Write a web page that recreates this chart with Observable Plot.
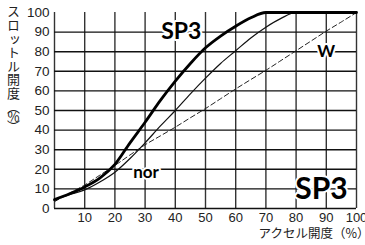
<!DOCTYPE html>
<html><head><meta charset="utf-8">
<script src="https://cdn.jsdelivr.net/npm/d3@7"></script>
<script src="https://cdn.jsdelivr.net/npm/@observablehq/plot@0.6"></script>
<style>
html,body{margin:0;padding:0;background:#fff;overflow:hidden}
#wrap{position:relative;width:365px;height:245px}
#chart svg{display:block}
#ytitle{position:absolute;left:5px;top:5px;writing-mode:vertical-rl;text-orientation:upright;
  font-family:'Noto Sans CJK JP',sans-serif;font-size:13px;line-height:16px;color:#222;letter-spacing:0.6px}
#ytitle .unit{letter-spacing:-3.5px}
</style>
</head><body><div id="wrap"><div id="chart"></div><div id="ytitle"></div></div>
<script>
// accelerator opening (%)
const accel = [0, 5, 10, 15, 20, 25, 30, 35, 40, 45, 50, 55, 60, 65, 70, 75, 80, 85, 90, 95, 100];
// throttle opening (%) per mode
const sp3   = [4.5, 7.5, 11, 15.5, 22.5, 33.5, 44, 55, 65, 74, 82, 88, 93, 97.3, 100, 100, 100, 100, 100, 100, 100];
const nor   = [4.5, 7, 9.5, 13.5, 18.5, 25.5, 33.5, 42, 50, 58.5, 66.5, 74, 80.5, 87, 92.5, 97, 100, 100, 100, 100, 100];
const wMode = [3.5, 7.8, 12, 17, 22, 27.3, 32.5, 37, 41.5, 46.3, 51, 56, 61, 65.8, 70.5, 75.5, 80.5, 85.5, 90.5, 95.2, 100];
const xTicks = [10, 20, 30, 40, 50, 60, 70, 80, 90, 100];
const yTicks = [0, 10, 20, 30, 40, 50, 60, 70, 80, 90, 100];
const hGrid = [10, 20, 30, 40, 50, 60, 70, 80, 90];
const vGrid = [0, 10, 20, 30, 40, 50, 60, 70, 80, 90, 100];
const yTitleMain = "スロットル開度";
const yTitleUnit = "︵％︶";
const xTitle = "アクセル開度（%）";
// curve labels
const labelText = ["SP3", "nor", "W"];
const labelX = [42, 30.3, 90];
const labelY = [90, 18.5, 80.3];
const cornerLabel = "SP3";

const table = accel.map((a, i) => ({a, sp3: sp3[i], nor: nor[i], w: wMode[i]}));
const labels = labelText.map((t, i) => ({t, x: labelX[i], y: labelY[i]}));

const tickFont = "'Liberation Sans', Arial, sans-serif";
const cjkFont = "'Noto Sans CJK JP', sans-serif";
const labFont = "Lato, 'DejaVu Sans', sans-serif";

const chart = Plot.plot({
  width: 365, height: 245,
  marginLeft: 54, marginRight: 9, marginTop: 12, marginBottom: 37,
  style: {background: "#fff", overflow: "visible"},
  x: {domain: [0, 100]},
  y: {domain: [0, 100]},
  marks: [
    Plot.ruleX(vGrid, {stroke: "#333", strokeWidth: 1.4}),
    Plot.ruleY(hGrid, {stroke: "#111", strokeWidth: 1.4}),
    Plot.ruleY([0], {stroke: "#111", strokeWidth: 1.5}),
    Plot.line(table, {x: "a", y: "w", stroke: "#222", strokeWidth: 1, strokeDasharray: "5,3", curve: "monotone-x"}),
    Plot.line(table, {x: "a", y: "nor", stroke: "#111", strokeWidth: 1.2, curve: "monotone-x"}),
    Plot.line(table, {x: "a", y: "sp3", stroke: "#000", strokeWidth: 2.8, curve: "monotone-x"}),
    Plot.axisX(xTicks, {tickSize: 0, tickPadding: 4, fontSize: 13, fontFamily: tickFont, fill: "#222", label: null}),
    Plot.axisY(yTicks, {tickSize: 0, tickPadding: 5, fontSize: 13.5, fontFamily: tickFont, fill: "#222", label: null}),
    Plot.text(labels.slice(0, 1), {x: "x", y: "y", text: "t", fontSize: 23, fontWeight: "bold", fontFamily: labFont,
      letterSpacing: "3px", stroke: "#fff", strokeWidth: 4, fill: "#000"}),
    Plot.text(labels.slice(1), {x: "x", y: "y", text: "t", fontSize: 17, fontWeight: "bold", fontFamily: labFont,
      stroke: "#fff", strokeWidth: 4, fill: "#000"}),
    Plot.text([cornerLabel], {x: 88.4, y: 10, text: d => d, fontSize: 30, fontWeight: "bold", fontFamily: labFont,
      letterSpacing: "3.5px", stroke: "#fff", strokeWidth: 4, fill: "#000"}),
    Plot.text([xTitle], {frameAnchor: "bottom-right", text: d => d, dx: -98, dy: 29, textAnchor: "start",
      fontSize: 12.5, fontFamily: cjkFont, fill: "#222"})
  ]
});
document.getElementById("chart").appendChild(chart);
const yt = document.getElementById("ytitle");
yt.append(yTitleMain);
const unit = document.createElement("span");
unit.className = "unit";
unit.textContent = yTitleUnit;
yt.append(unit);
</script>
</body></html>
